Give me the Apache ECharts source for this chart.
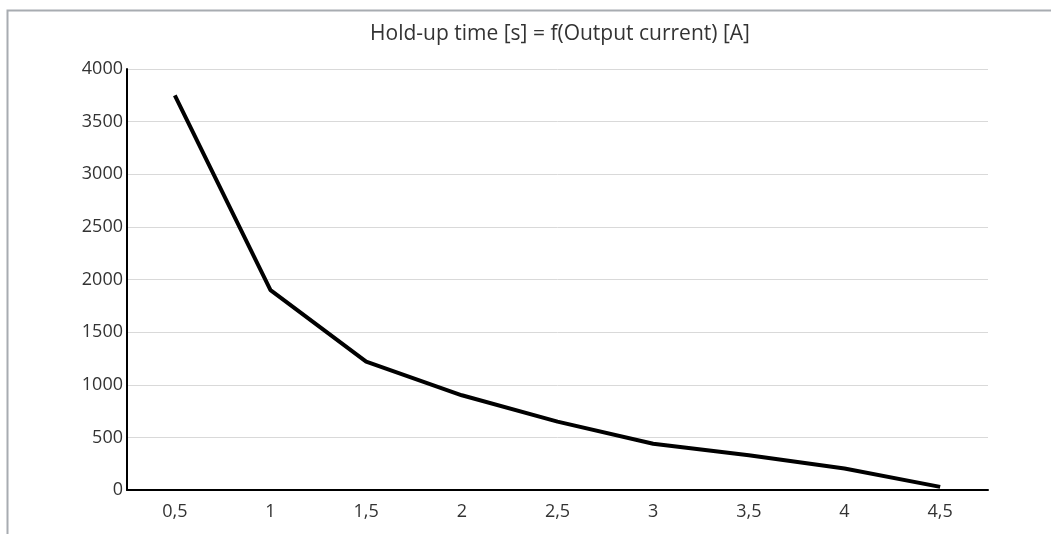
<!DOCTYPE html>
<html><head><meta charset="utf-8">
<script src="https://cdn.jsdelivr.net/npm/echarts@6/dist/echarts.min.js"></script>
<style>html,body{margin:0;padding:0;background:#fff;}#c{width:1051px;height:534px;}</style>
</head><body><div id="c"></div>
<script>
const categories = ['0,5','1','1,5','2','2,5','3','3,5','4','4,5'];
const holdUpTime = [3750, 1900, 1220, 900, 650, 440, 330, 205, 30];
const titleText = 'Hold-up time [s] = f(Output current) [A]';

const chart = echarts.init(document.getElementById('c'));
chart.setOption({
  animation: false,
  backgroundColor: '#fff',
  graphic: [{
    type: 'rect', left: 5, top: 8,
    shape: {x: 0, y: 0, width: 1200, height: 700},
    style: {fill: 'none', stroke: '#a8acb1', lineWidth: 2}
  }],
  title: {
    text: titleText, left: 555, top: 19, textAlign: 'center',
    textStyle: {fontFamily: 'Open Sans', fontSize: 21, fontWeight: 'normal', color: '#333'}
  },
  grid: {left: 127, right: 63, top: 69, bottom: 44},
  xAxis: {
    type: 'category', data: categories, boundaryGap: true,
    axisLine: {lineStyle: {color: '#000', width: 2}},
    axisTick: {show: false},
    axisLabel: {fontFamily: 'Open Sans', fontSize: 18, color: '#333', margin: 13}
  },
  yAxis: {
    type: 'value', min: 0, max: 4000, interval: 500,
    axisLine: {show: true, lineStyle: {color: '#000', width: 2}},
    axisTick: {show: false},
    axisLabel: {fontFamily: 'Open Sans', fontSize: 18, color: '#333', margin: 4, formatter: v => String(v)},
    splitLine: {lineStyle: {color: '#d9d9d9', width: 1}}
  },
  series: [{
    type: 'line', data: holdUpTime, showSymbol: false,
    lineStyle: {color: '#000', width: 4}
  }]
});
</script></body></html>
